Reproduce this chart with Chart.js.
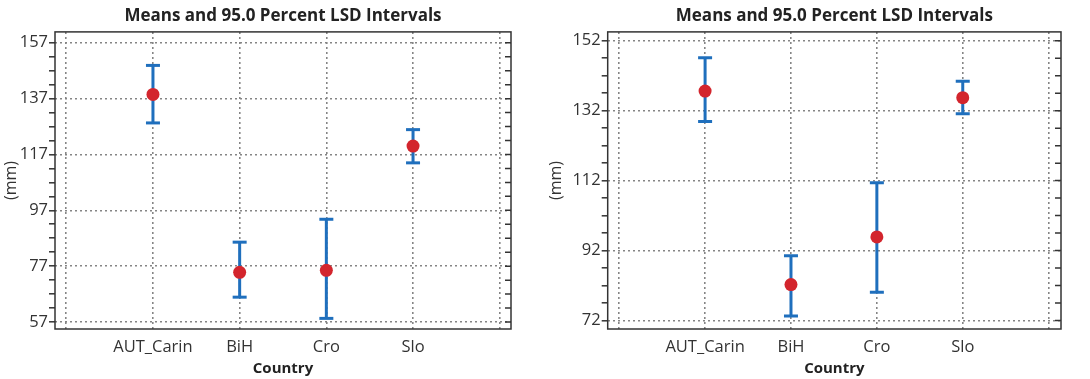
<!DOCTYPE html>
<html>
<head>
<meta charset="utf-8">
<script src="https://cdn.jsdelivr.net/npm/chart.js"></script>
<style>
  html, body { margin: 0; padding: 0; background: #fff; }
  .box { position: absolute; top: 0; height: 379px; }
  #leftBox { left: 0; width: 540px; }
  #rightBox { left: 545px; width: 545px; }
</style>
</head>
<body>
<div class="box" id="leftBox"><canvas id="leftChart"></canvas></div>
<div class="box" id="rightBox"><canvas id="rightChart"></canvas></div>
<script>
const countries = ['AUT_Carin', 'BiH', 'Cro', 'Slo'];

// left panel
const leftMeans = [138.5, 74.8, 75.5, 120.0];
const leftLower = [128.3, 65.9, 58.3, 114.0];
const leftUpper = [148.9, 85.6, 93.8, 125.9];
const leftTicks = [57, 77, 97, 117, 137, 157];

// right panel
const rightMeans = [137.6, 82.3, 95.9, 135.7];
const rightLower = [128.9, 73.3, 80.1, 131.1];
const rightUpper = [147.1, 90.5, 111.4, 140.4];
const rightTicks = [72, 92, 112, 132, 152];

const FONT = 'Open Sans';
const BLUE = '#1f6fbd';
const RED = '#d3252d';

// box around the plot and inward ticks on the right edge
const framePlugin = {
    id: 'frame',
    afterDraw: function(chart) {
        const ctx = chart.ctx;
        const a = chart.chartArea;
        const y = chart.scales.y;
        ctx.save();
        ctx.strokeStyle = '#333';
        ctx.lineWidth = 1.5;
        ctx.strokeRect(a.left, a.top, a.right - a.left, a.bottom - a.top);
        ctx.beginPath();
        y.ticks.forEach(function(t) {
            const py = y.getPixelForValue(t.value);
            ctx.moveTo(a.right - 6, py);
            ctx.lineTo(a.right, py);
        });
        ctx.stroke();
        ctx.restore();
    }
};

function makeChart(id, means, lower, upper, majors, yMin, yMax, xMin, xMax, yWidth) {
    let meanData = [];
    let barData = [];
    for (let i = 0; i < countries.length; i++) {
        meanData.push({ x: i + 1, y: means[i] });
        barData.push({ x: i + 1, y: lower[i] });
        barData.push({ x: i + 1, y: upper[i] });
        barData.push({ x: i + 1, y: null });
    }
    const step = 5;
    const config = {
        type: 'scatter',
        data: {
            datasets: [{
                label: 'Mean',
                data: meanData,
                order: 0,
                pointRadius: 6.5,
                pointBackgroundColor: RED,
                pointBorderWidth: 0,
                showLine: false
            }, {
                label: 'LSD',
                data: barData,
                order: 1,
                showLine: true,
                spanGaps: false,
                borderColor: BLUE,
                borderWidth: 3,
                pointStyle: 'line',
                pointRadius: 7,
                pointBorderColor: BLUE,
                pointBorderWidth: 3
            }]
        },
        options: {
            responsive: true,
            maintainAspectRatio: false,
            animation: false,
            layout: { padding: { left: 0, right: 29, top: 0, bottom: 0 } },
            plugins: {
                legend: { display: false },
                tooltip: { enabled: false },
                title: {
                    display: true,
                    text: 'Means and 95.0 Percent LSD Intervals',
                    fullSize: false,
                    color: '#222',
                    font: { family: FONT, size: 17, weight: 'bold' },
                    padding: { top: 6, bottom: 5.5 }
                }
            },
            scales: {
                x: {
                    type: 'linear',
                    min: xMin,
                    max: xMax,
                    afterBuildTicks: function(s) {
                        s.ticks = [0, 1, 2, 3, 4, 5].map(function(v) { return { value: v }; });
                    },
                    afterFit: function(s) { s.height = 50; },
                    border: { display: false, dash: [2, 3] },
                    grid: { color: '#858585', lineWidth: 1.6, drawTicks: false },
                    ticks: {
                        autoSkip: false,
                        maxRotation: 0,
                        padding: 8,
                        color: '#333',
                        font: { family: FONT, size: 16.5 },
                        callback: function(v) { return countries[v - 1] || ''; }
                    },
                    title: {
                        display: true,
                        text: 'Country',
                        color: '#222',
                        font: { family: FONT, size: 15, weight: 'bold' },
                        padding: { top: 0, bottom: 1 }
                    }
                },
                y: {
                    min: yMin,
                    max: yMax,
                    afterBuildTicks: function(s) {
                        let t = [];
                        for (let v = majors[0]; v <= majors[majors.length - 1]; v += step) {
                            t.push({ value: v });
                        }
                        s.ticks = t;
                    },
                    afterFit: function(s) { s.width = yWidth; },
                    border: { display: false, dash: [2, 3] },
                    grid: {
                        color: function(c) {
                            return majors.indexOf(c.tick.value) >= 0 ? '#858585' : 'rgba(0,0,0,0)';
                        },
                        lineWidth: 1.6,
                        tickLength: 6,
                        tickColor: '#333',
                        tickWidth: 1.5
                    },
                    ticks: {
                        autoSkip: false,
                        padding: 1,
                        color: '#333',
                        font: { family: FONT, size: 16.5 },
                        callback: function(v) { return majors.indexOf(v) >= 0 ? String(v) : ''; }
                    },
                    title: {
                        display: true,
                        text: '(mm)',
                        color: '#333',
                        font: { family: FONT, size: 16 },
                        padding: { top: 2, bottom: 0 }
                    }
                }
            }
        },
        plugins: [framePlugin]
    };
    return new Chart(document.getElementById(id), config);
}

makeChart('leftChart', leftMeans, leftLower, leftUpper, leftTicks, 54.5, 160.9, -0.13, 5.13, 55);
makeChart('rightChart', rightMeans, rightLower, rightUpper, rightTicks, 69.6, 154.5, -0.134, 5.144, 62.7);
</script>
</body>
</html>
